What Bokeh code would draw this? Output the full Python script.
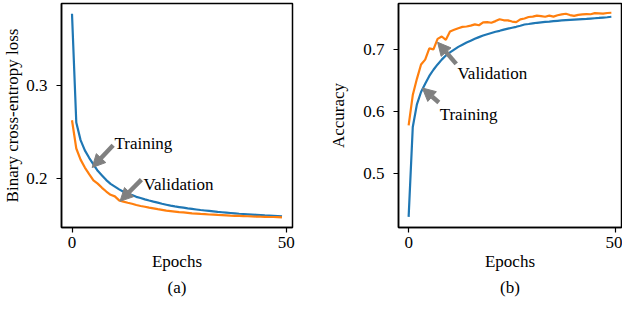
from bokeh.plotting import figure
from bokeh.models import Range1d, FixedTicker, Arrow, NormalHead, Label
from bokeh.layouts import row
from bokeh.embed import file_html
from bokeh.resources import INLINE

epochs = list(range(50))

loss_train = [0.377, 0.260, 0.241, 0.230, 0.222, 0.215, 0.208, 0.203, 0.198, 0.194,
              0.191, 0.188, 0.1855, 0.1835, 0.182, 0.180, 0.1787, 0.1773, 0.176, 0.1748,
              0.1737, 0.1725, 0.1715, 0.1705, 0.1697, 0.1690, 0.1683, 0.1676, 0.1670, 0.1664,
              0.1658, 0.1653, 0.1648, 0.1643, 0.1638, 0.1634, 0.1630, 0.1626, 0.1622, 0.1618,
              0.1615, 0.1612, 0.1609, 0.1606, 0.1603, 0.1600, 0.1598, 0.1596, 0.1594, 0.1590]

loss_val = [0.2624, 0.232, 0.220, 0.2115, 0.2045, 0.1978, 0.1942, 0.1897, 0.1857, 0.1822,
            0.1805, 0.1762, 0.1748, 0.1736, 0.1725, 0.1712, 0.1701, 0.1693, 0.1684, 0.1676,
            0.1667, 0.1660, 0.1651, 0.1646, 0.1641, 0.1636, 0.1632, 0.1628, 0.1622, 0.1620,
            0.1616, 0.1614, 0.1610, 0.1608, 0.1605, 0.1603, 0.1601, 0.1598, 0.1596, 0.1595,
            0.1593, 0.1591, 0.1589, 0.1588, 0.1586, 0.1585, 0.1583, 0.1583, 0.1581, 0.1578]

acc_train = [0.430, 0.5754, 0.612, 0.632, 0.6455, 0.658, 0.668, 0.6766, 0.6844, 0.691,
             0.696, 0.7005, 0.705, 0.7085, 0.712, 0.715, 0.718, 0.7208, 0.7234, 0.7255,
             0.7275, 0.7295, 0.731, 0.733, 0.7345, 0.736, 0.7375, 0.7392, 0.7412, 0.742,
             0.743, 0.744, 0.7448, 0.7455, 0.746, 0.7466, 0.7472, 0.7478, 0.7484, 0.7488,
             0.7492, 0.7496, 0.7500, 0.7503, 0.7508, 0.7513, 0.7518, 0.7524, 0.7530, 0.7538]

acc_val = [0.578, 0.627, 0.6533, 0.6766, 0.6844, 0.7025, 0.701, 0.718, 0.7218, 0.7165,
           0.730, 0.7327, 0.7352, 0.7374, 0.738, 0.7394, 0.7415, 0.740, 0.7446, 0.745,
           0.744, 0.7467, 0.7498, 0.748, 0.7478, 0.746, 0.745, 0.7495, 0.751, 0.7534,
           0.754, 0.7555, 0.7548, 0.7538, 0.7555, 0.754, 0.7562, 0.7575, 0.7586, 0.7565,
           0.7552, 0.7568, 0.7575, 0.758, 0.7578, 0.7596, 0.7592, 0.7588, 0.7598, 0.7602]

x_ticks = [0, 50]
loss_ticks = [0.2, 0.3]
acc_ticks = [0.5, 0.6, 0.7]

FONT = "Liberation Serif"
FS = "17px"
BLUE = "#1f77b4"
ORANGE = "#ff7f0e"
GRAY = "#808080"


def style(p, xticks, yticks, ylabel, ylab_standoff):
    p.xaxis.ticker = FixedTicker(ticks=xticks)
    p.yaxis.ticker = FixedTicker(ticks=yticks)
    p.xgrid.visible = False
    p.ygrid.visible = False
    p.outline_line_color = "#000000"
    p.outline_line_width = 1.5
    p.outline_line_alpha = 1.0
    for ax in (p.xaxis[0], p.yaxis[0]):
        ax.axis_line_width = 1.5
        ax.axis_line_color = "#000000"
        ax.major_tick_out = 5
        ax.major_tick_in = 0
        ax.major_tick_line_width = 1.2
        ax.minor_tick_line_color = None
        ax.major_label_text_font = FONT
        ax.major_label_text_font_size = FS
        ax.major_label_text_font_style = "normal"
        ax.major_label_text_color = "#000000"
        ax.axis_label_text_font = FONT
        ax.axis_label_text_font_size = FS
        ax.axis_label_text_font_style = "normal"
        ax.axis_label_text_color = "#000000"
    p.xaxis.axis_label = "Epochs"
    p.xaxis.major_label_standoff = 4
    p.xaxis.axis_label_standoff = 1
    p.yaxis.axis_label = ylabel
    p.yaxis.major_label_standoff = 9
    p.yaxis.axis_label_standoff = ylab_standoff
    p.title.align = "center"
    p.title.text_font = FONT
    p.title.text_font_size = FS
    p.title.text_font_style = "normal"
    p.title.text_color = "#000000"
    p.title.standoff = 5
    p.title.offset = 0


def note(p, s, tx, ty, hx, hy, lx, ly):
    p.add_layout(Arrow(end=NormalHead(size=13, fill_color=GRAY, line_color=GRAY),
                       x_start=tx, y_start=ty, x_end=hx, y_end=hy,
                       line_color=GRAY, line_width=4.5))
    p.add_layout(Label(x=lx, y=ly, text=s, text_font=FONT, text_font_size=FS,
                       text_font_style="normal", text_align="left",
                       text_baseline="middle", text_color="#000000"))


p1 = figure(width=312, height=300, output_backend="svg", toolbar_location=None,
            x_range=Range1d(-2.45, 51.45), y_range=Range1d(0.147, 0.388),
            title="(a)", title_location="below",
            min_border_left=56, min_border_right=20, min_border_top=1, min_border_bottom=73)
p1.line(epochs, loss_train, line_color=BLUE, line_width=2.2)
p1.line(epochs, loss_val, line_color=ORANGE, line_width=2.2)
style(p1, x_ticks, loss_ticks, "Binary cross-entropy loss", 1)
note(p1, "Training", 9.6, 0.2355, 4.7, 0.2115, 9.9, 0.2369)
note(p1, "Validation", 16.2, 0.1985, 11.2, 0.1752, 16.7, 0.1935)

p2 = figure(width=310, height=300, output_backend="svg", toolbar_location=None,
            x_range=Range1d(-2.45, 51.45), y_range=Range1d(0.4128, 0.7752),
            title="(b)", title_location="below",
            min_border_left=86, min_border_right=1, min_border_top=3, min_border_bottom=73)
p2.line(epochs, acc_train, line_color=BLUE, line_width=2.2)
p2.line(epochs, acc_val, line_color=ORANGE, line_width=2.2)
style(p2, x_ticks, acc_ticks, "Accuracy", 12)
note(p2, "Validation", 11.5, 0.6775, 7.0, 0.7125, 11.8, 0.6626)
note(p2, "Training", 7.3, 0.6150, 3.3, 0.6385, 7.5, 0.5961)

layout = row(p1, p2, styles={"vertical-align": "top"})
open("out.html", "w").write(file_html(layout, INLINE))
